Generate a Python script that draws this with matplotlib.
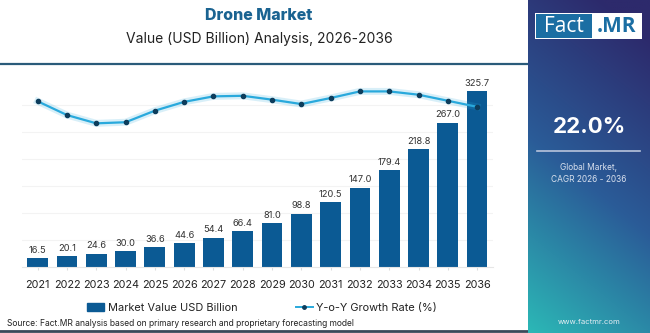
import matplotlib.pyplot as plt
import numpy as np
from matplotlib.lines import Line2D
from matplotlib.patches import Patch, Rectangle

years = ["2021", "2022", "2023", "2024", "2025", "2026", "2027", "2028",
         "2029", "2030", "2031", "2032", "2033", "2034", "2035", "2036"]
market_value = [16.5, 20.1, 24.6, 30.0, 36.6, 44.6, 54.4, 66.4,
                81.0, 98.8, 120.5, 147.0, 179.4, 218.8, 267.0, 325.7]
growth_rate = [21.0, 18.5, 17.0, 17.2, 19.3, 20.9, 21.9, 22.0,
               21.3, 20.5, 21.6, 22.8, 22.8, 22.2, 21.1, 20.0]
cagr_text = "22.0%"

W, H = 650, 333
BAR = "#0b5a94"
LINE = "#29a9dc"

fig = plt.figure(figsize=(W / 100, H / 100), dpi=100)
fig.patch.set_facecolor("white")
plt.rcParams["font.family"] = ["Inter", "DejaVu Sans"]


def fx(px):
    return px / W


def fy(py):
    return 1 - py / H


# background overlay axis for text and lines
bg = fig.add_axes([0, 0, 1, 1], zorder=-5)
bg.set_xlim(0, W)
bg.set_ylim(H, 0)
bg.axis("off")

bg.text(259, 16, "Drone Market", ha="center", va="center", fontsize=11.5,
        fontweight="heavy", color="#1a6391")
bg.text(259, 39, "Value (USD Billion) Analysis, 2026-2036", ha="center",
        va="center", fontsize=10, color="#222222")
bg.plot([0, 528], [64, 64], color="#2a5b7a", lw=1.6)
bg.plot([0, 528], [331, 331], color="#3a4a5a", lw=2)

# main chart
ax = fig.add_axes([fx(21.6), fy(267), fx(471.6), 192 / H])
x = np.arange(len(years))
ax.bar(x, market_value, width=0.71, color=BAR, zorder=2)
for xi, v in zip(x, market_value):
    ax.text(xi, v + 6, f"{v:.1f}", ha="center", va="bottom", fontsize=6.7,
            color="#333333")
ax.set_xlim(-0.55, len(years) - 0.45)
ax.set_ylim(0, 355.3)
ax.set_xticks(x)
ax.set_xticklabels(years, fontsize=7.8, color="#222222")
ax.set_yticks([50, 100, 150, 200, 250, 300])
ax.grid(axis="y", color="#f3f3f3", lw=0.8, zorder=0)
for s in ["top", "right", "left"]:
    ax.spines[s].set_visible(False)
ax.spines["bottom"].set_color("#e6e6e6")

ax2 = ax.twinx()
ax2.plot(x, growth_rate, color=LINE, lw=5, alpha=0.18, zorder=3)
ax2.plot(x, growth_rate, color=LINE, lw=1.6, zorder=4,
         marker="o", markersize=3, markerfacecolor="#0d3d5c",
         markeredgecolor="#0d3d5c")
ax2.set_ylim(-9.1, 25.78)
ax2.axis("off")

# twinx resets the left ticks, so hide them afterwards
ax.tick_params(axis="y", left=False, right=False, labelleft=False,
               labelright=False)
ax.tick_params(axis="x", length=2, color="#dddddd", pad=7)

# legend
handles = [Patch(facecolor=BAR, edgecolor=BAR),
           Line2D([0], [0], color=LINE, lw=1.4, marker="o", markersize=2.5,
                  markerfacecolor="#0d3d5c", markeredgecolor="#0d3d5c")]
fig.legend(handles, ["Market Value USD Billion", "Y-o-Y Growth Rate (%)"],
           loc="center", bbox_to_anchor=(fx(262), fy(308)), ncol=2,
           frameon=False, fontsize=7.9, handlelength=1.6, handletextpad=0.3,
           columnspacing=5.3, labelcolor="#222222")

bg.text(7, 323, "Source: Fact.MR analysis based on primary research and "
        "proprietary forecasting model", ha="left", va="center", fontsize=6.1,
        color="#222222")

# right side panel with gradient
side = fig.add_axes([fx(528), 0, fx(W - 528), 1], zorder=-4)
ny, nx = 200, 60
gy, gx = np.mgrid[0:1:ny * 1j, 0:1:nx * 1j]
t = np.clip(gy * 0.85 + (1 - gx) * 0.25 - 0.1, 0, 1)
top = np.array([0x2d, 0x2a, 0x6c]) / 255
mid = np.array([0x2a, 0x5c, 0x98]) / 255
bot = np.array([0x2c, 0xb8, 0xb6]) / 255
t3 = t[..., None]
img = np.where(t3 < 0.5, top + (mid - top) * (t3 / 0.5),
               mid + (bot - mid) * ((t3 - 0.5) / 0.5))
side.imshow(img, aspect="auto", extent=(528, W, H, 0))
side.set_xlim(528, W)
side.set_ylim(H, 0)
side.axis("off")

side.add_patch(Rectangle((535, 13), 107, 26, facecolor="white", lw=0))
side.add_patch(Rectangle((536, 14), 56, 24, facecolor="#1b6ea3", lw=0))
side.text(564, 26.5, "Fact", ha="center", va="center", fontsize=15,
          color="white", family=["Open Sans", "DejaVu Sans"])
side.text(617, 26.5, ".MR", ha="center", va="center", fontsize=15,
          color="#1b6ea3", fontweight="bold", family=["Open Sans", "DejaVu Sans"])

side.text(589, 127, cagr_text, ha="center", va="center", fontsize=16,
          fontweight="bold", color="white")
side.plot([537, 640], [151, 151], color="#b8c4dc", lw=1.2)
side.text(589, 168, "Global Market,", ha="center", va="center", fontsize=6,
          color="#d8e0ee")
side.text(589, 179, "CAGR 2026 - 2036", ha="center", va="center", fontsize=6,
          color="#d8e0ee")
side.text(589, 322, "www.factmr.com", ha="center", va="center", fontsize=5.5,
          color="#e6eef4")

fig.savefig("out.png", dpi=100)
